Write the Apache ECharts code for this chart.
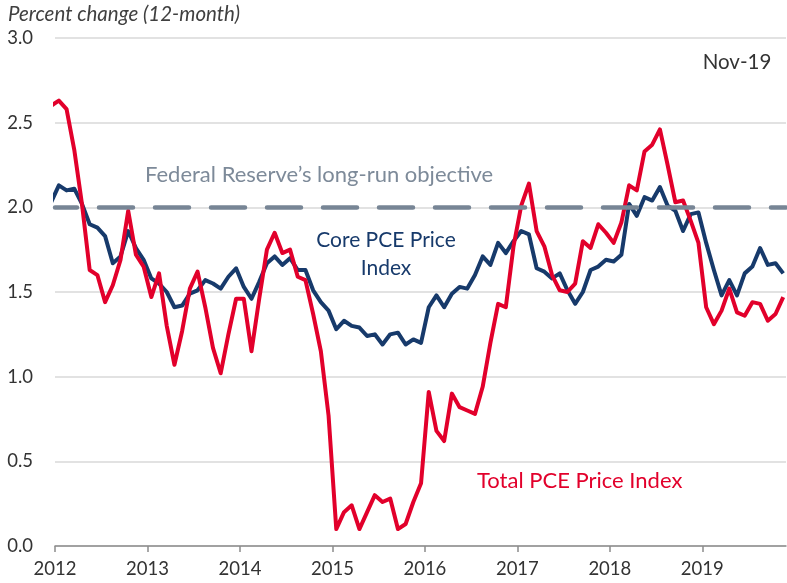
<!DOCTYPE html>
<html><head><meta charset="utf-8">
<script src="https://cdn.jsdelivr.net/npm/echarts@6/dist/echarts.min.js"></script>
<style>html,body{margin:0;padding:0;background:#fff}#c{width:787px;height:583px}</style>
</head><body><div id="c"></div>
<script>
// Monthly observations (Dec 2011 is partly outside the axis and is clipped)
const months = [
  '2011-12',
  '2012-01','2012-02','2012-03','2012-04','2012-05','2012-06','2012-07','2012-08','2012-09','2012-10','2012-11','2012-12',
  '2013-01','2013-02','2013-03','2013-04','2013-05','2013-06','2013-07','2013-08','2013-09','2013-10','2013-11','2013-12',
  '2014-01','2014-02','2014-03','2014-04','2014-05','2014-06','2014-07','2014-08','2014-09','2014-10','2014-11','2014-12',
  '2015-01','2015-02','2015-03','2015-04','2015-05','2015-06','2015-07','2015-08','2015-09','2015-10','2015-11','2015-12',
  '2016-01','2016-02','2016-03','2016-04','2016-05','2016-06','2016-07','2016-08','2016-09','2016-10','2016-11','2016-12',
  '2017-01','2017-02','2017-03','2017-04','2017-05','2017-06','2017-07','2017-08','2017-09','2017-10','2017-11','2017-12',
  '2018-01','2018-02','2018-03','2018-04','2018-05','2018-06','2018-07','2018-08','2018-09','2018-10','2018-11','2018-12',
  '2019-01','2019-02','2019-03','2019-04','2019-05','2019-06','2019-07','2019-08','2019-09','2019-10','2019-11'
];
const corePCE = [
  2.03,
  2.13, 2.10, 2.11, 2.02, 1.90, 1.88, 1.83, 1.67, 1.71, 1.86, 1.76, 1.69,
  1.58, 1.55, 1.50, 1.41, 1.42, 1.49, 1.51, 1.57, 1.55, 1.52, 1.59, 1.64,
  1.53, 1.46, 1.56, 1.67, 1.71, 1.66, 1.70, 1.63, 1.63, 1.51, 1.44, 1.39,
  1.28, 1.33, 1.30, 1.29, 1.24, 1.25, 1.19, 1.25, 1.26, 1.19, 1.22, 1.20,
  1.41, 1.48, 1.41, 1.49, 1.53, 1.52, 1.60, 1.71, 1.66, 1.79, 1.73, 1.80,
  1.86, 1.84, 1.64, 1.62, 1.58, 1.61, 1.51, 1.43, 1.50, 1.63, 1.65, 1.69,
  1.68, 1.72, 2.02, 1.95, 2.06, 2.04, 2.12, 2.01, 1.98, 1.86, 1.96, 1.97,
  1.79, 1.63, 1.48, 1.57, 1.48, 1.61, 1.65, 1.76, 1.66, 1.67, 1.61
];
const totalPCE = [
  2.60,
  2.63, 2.58, 2.34, 2.02, 1.63, 1.60, 1.44, 1.54, 1.69, 1.98, 1.72, 1.65,
  1.47, 1.61, 1.30, 1.07, 1.27, 1.52, 1.62, 1.41, 1.17, 1.02, 1.25, 1.46,
  1.46, 1.15, 1.46, 1.75, 1.85, 1.73, 1.75, 1.59, 1.57, 1.37, 1.15, 0.77,
  0.10, 0.20, 0.24, 0.10, 0.20, 0.30, 0.26, 0.28, 0.10, 0.13, 0.26, 0.37,
  0.91, 0.68, 0.62, 0.90, 0.82, 0.80, 0.78, 0.94, 1.20, 1.43, 1.41, 1.77,
  2.01, 2.14, 1.86, 1.77, 1.60, 1.51, 1.50, 1.55, 1.80, 1.76, 1.90, 1.85,
  1.79, 1.91, 2.13, 2.10, 2.33, 2.37, 2.46, 2.25, 2.03, 2.04, 1.92, 1.79,
  1.41, 1.31, 1.39, 1.52, 1.38, 1.36, 1.44, 1.43, 1.33, 1.37, 1.47
];
const yearTicks = [2012, 2013, 2014, 2015, 2016, 2017, 2018, 2019];
const objective = 2.0;

const FONT = 'Lato, "Noto Sans", sans-serif';
const RED = '#e2002b', NAVY = '#173a6b', DASH = '#778595';

// month -> decimal year (mid-month)
function toX(m) { const p = m.split('-'); return +p[0] + (+p[1] - 0.5) / 12; }
const corePts = months.map((m, i) => [toX(m), corePCE[i]]);
const totalPts = months.map((m, i) => [toX(m), totalPCE[i]]);

const chart = echarts.init(document.getElementById('c'), null, {renderer: 'canvas'});
chart.setOption({
  animation: false,
  backgroundColor: '#fff',
  grid: {left: 55, right: 1, top: 38, bottom: 37, containLabel: false},
  xAxis: {
    type: 'value', min: 2012, max: 2019.905, interval: 1,
    axisLine: {show: true, onZero: false, lineStyle: {color: '#8c8c8c', width: 1.5}},
    axisTick: {show: true, length: 6, customValues: yearTicks, lineStyle: {color: '#8c8c8c', width: 1.5}},
    axisLabel: {customValues: yearTicks, formatter: v => String(Math.round(v)), color: '#333', fontFamily: FONT, fontSize: 18.5, margin: 14},
    splitLine: {show: false}
  },
  yAxis: {
    type: 'value', min: 0, max: 3, interval: 0.5,
    axisLine: {show: false}, axisTick: {show: false},
    axisLabel: {formatter: v => v.toFixed(1), color: '#333', fontFamily: FONT, fontSize: 18.5, margin: 22},
    splitLine: {lineStyle: {color: '#d9d9d9', width: 1.5}}
  },
  series: [
    {
      type: 'line', data: [], z: 1, silent: true,
      markLine: {
        silent: true, symbol: 'none', label: {show: false},
        lineStyle: {color: DASH, width: 4.5, type: [34, 22], dashOffset: 12, cap: 'round'},
        data: [{yAxis: objective}]
      }
    },
    {name: 'Core PCE Price Index', type: 'line', data: corePts, z: 3, showSymbol: false, clip: true,
     lineStyle: {color: NAVY, width: 4, join: 'round'}},
    {name: 'Total PCE Price Index', type: 'line', data: totalPts, z: 4, showSymbol: false, clip: true,
     lineStyle: {color: RED, width: 4, join: 'round'}}
  ],
  graphic: [
    {type: 'text', x: 8, y: 14, style: {text: 'Percent change (12-month)', font: 'italic 20.5px ' + FONT, fill: '#404040', textVerticalAlign: 'middle'}},
    {type: 'text', x: 737, y: 62, style: {text: 'Nov-19', font: '20.5px ' + FONT, fill: '#333', textAlign: 'center', textVerticalAlign: 'middle'}},
    {type: 'text', x: 145, y: 175, style: {text: 'Federal Reserve’s long-run objective', font: '22px ' + FONT, fill: '#7d8a99', textVerticalAlign: 'middle'}},
    {type: 'text', x: 386, y: 240, style: {text: 'Core PCE Price', font: '21px ' + FONT, fill: NAVY, textAlign: 'center', textVerticalAlign: 'middle'}},
    {type: 'text', x: 386, y: 268, style: {text: 'Index', font: '21px ' + FONT, fill: NAVY, textAlign: 'center', textVerticalAlign: 'middle'}},
    {type: 'text', x: 477, y: 481, style: {text: 'Total PCE Price Index', font: '22px ' + FONT, fill: RED, textVerticalAlign: 'middle'}}
  ]
});
</script>
</body></html>
